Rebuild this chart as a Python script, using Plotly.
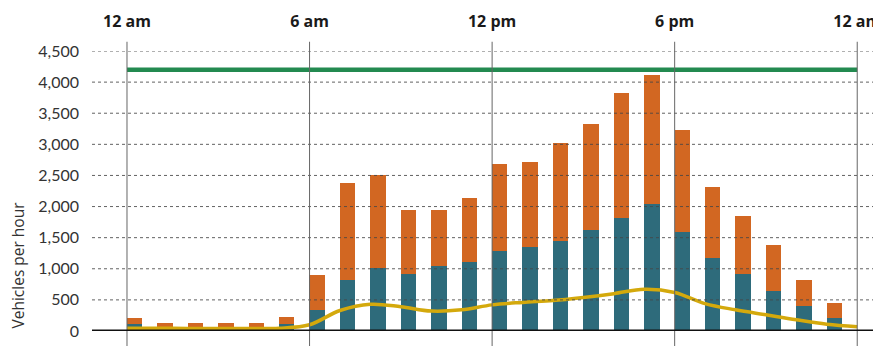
import plotly.graph_objects as go

# Hourly traffic, vehicles per hour
hours = list(range(24))
lower = [110, 50, 50, 50, 50, 120, 335, 820, 1015, 915, 1040, 1105, 1285, 1350,
         1445, 1620, 1815, 2045, 1590, 1170, 915, 640, 398, 205]
total = [205, 125, 125, 125, 125, 220, 898, 2380, 2510, 1945, 1945, 2140, 2688, 2720,
         3020, 3333, 3832, 4122, 3235, 2316, 1848, 1380, 818, 447]
upper = [t - l for t, l in zip(total, lower)]

trend_hours = list(range(25))
trend = [45, 45, 40, 40, 40, 45, 100, 330, 430, 390, 320, 340, 420, 460, 490, 540,
         600, 670, 620, 440, 340, 260, 180, 110, 70]

capacity = 4200
tick_hours = [0, 6, 12, 18, 24]
tick_text = ["12 am", "6 am", "12 pm", "6 pm", "12 am"]
y_ticks = list(range(0, 4501, 500))

fig = go.Figure()

bar_x = [h + 0.25 for h in hours]
fig.add_bar(x=bar_x, y=lower, width=0.51, marker=dict(color="#2e6b7b", line_width=0))
fig.add_bar(x=bar_x, y=upper, width=0.51, marker=dict(color="#d26722", line_width=0))

fig.add_scatter(x=trend_hours, y=trend, mode="lines",
                line=dict(color="#d4a90c", width=3.5, shape="spline", smoothing=1.0))
fig.add_scatter(x=[0, 24], y=[capacity, capacity], mode="lines",
                line=dict(color="#238a50", width=4.5))

# dotted gridlines drawn over the bars
for v in y_ticks[1:]:
    fig.add_shape(type="line", xref="paper", yref="y", x0=0, x1=1, y0=v, y1=v,
                  line=dict(color="rgba(70,70,70,0.85)", width=1, dash="3px,3px"),
                  layer="above")

# vertical hour markers
for h in tick_hours:
    fig.add_shape(type="line", xref="x", yref="paper", x0=h, x1=h, y0=-0.06, y1=1.033,
                  line=dict(color="#666666", width=1), layer="above")

# baseline
fig.add_shape(type="line", xref="paper", yref="y", x0=0, x1=1, y0=0, y1=0,
              line=dict(color="#111111", width=3), layer="above")

fig.add_annotation(text="Vehicles per hour", textangle=-90, xref="paper", yref="y",
                   x=0, xshift=-75, y=0, yanchor="bottom", xanchor="center", showarrow=False,
                   font=dict(family="Open Sans", size=15.5, color="#333333"))

# page body has an 8px margin, so the figure is shifted by that much
fig.update_layout(
    width=873, height=338,
    margin=dict(l=84, r=0, t=43, b=15),
    barmode="stack", bargap=0,
    showlegend=False,
    plot_bgcolor="white", paper_bgcolor="white",
    xaxis=dict(range=[-1.15, 24.65], side="top", tickvals=tick_hours,
               ticktext=["<b>%s</b>" % t for t in tick_text], showgrid=False,
               zeroline=False, showline=False, ticks="", ticklabelstandoff=20,
               ticklabeloverflow="allow",
               tickfont=dict(family="Open Sans", size=16, color="#1a1a1a")),
    yaxis=dict(range=[0, 4500], tickvals=y_ticks, tickformat=",", showgrid=False,
               zeroline=False, showline=False, ticks="", ticklabelstandoff=12,
               tickfont=dict(family="Lato", size=16, color="#333333")),
)

fig.write_html("out.html")
